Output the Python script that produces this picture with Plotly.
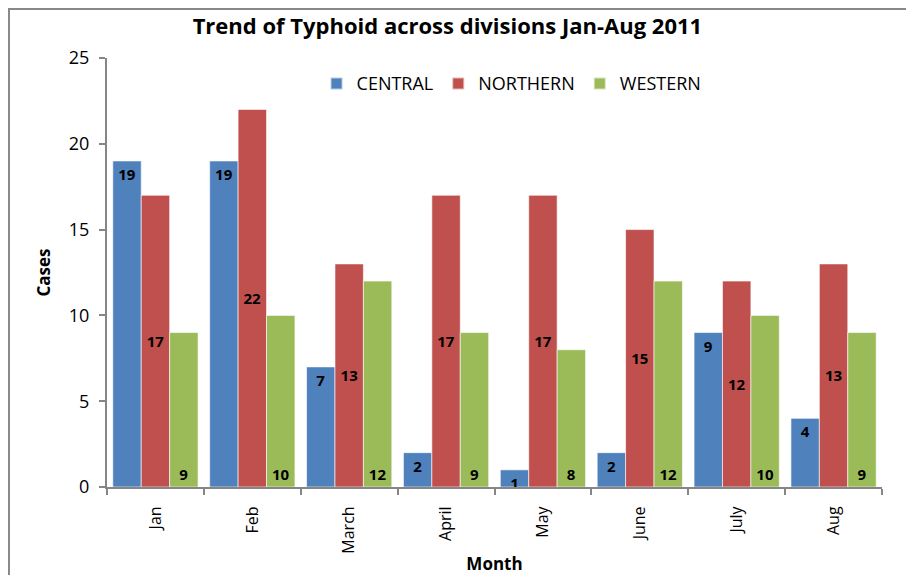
import plotly.graph_objects as go

months = ["Jan", "Feb", "March", "April", "May", "June", "July", "Aug"]
central = [19, 19, 7, 2, 1, 2, 9, 4]
northern = [17, 22, 13, 17, 17, 15, 12, 13]
western = [9, 10, 12, 9, 8, 12, 10, 9]

FONT = "Open Sans"
label_font = dict(family=FONT, size=15, color="black", weight="bold")

fig = go.Figure()
specs = [
    ("CENTRAL", central, "#4F81BD", "end"),
    ("NORTHERN", northern, "#C0504D", "middle"),
    ("WESTERN", western, "#9BBB59", "start"),
]
for name, vals, color, anchor in specs:
    fig.add_trace(go.Bar(
        name=name, x=months, y=vals,
        marker=dict(color=color, line=dict(color="rgba(255,255,255,0.6)", width=1)),
        text=[str(v) for v in vals], textposition="inside", insidetextanchor=anchor,
        textfont=label_font, constraintext="none", textangle=0,
        cliponaxis=False,
    ))

fig.update_layout(
    width=906, height=567,
    barmode="group", bargap=0.12, bargroupgap=0,
    plot_bgcolor="white", paper_bgcolor="white",
    margin=dict(l=99, r=32, t=50, b=88, autoexpand=False),
    font=dict(family=FONT, size=16, color="black"),
    title=dict(text="<b>Trend of Typhoid across divisions Jan-Aug 2011</b>",
               x=0.485, xanchor="center", y=0.967, yanchor="middle",
               font=dict(family=FONT, size=22, color="black")),
    legend=dict(orientation="h", x=0.522, xanchor="center", y=0.94, yanchor="middle",
                font=dict(family=FONT, size=18), itemsizing="constant",
                bgcolor="rgba(0,0,0,0)", traceorder="normal"),
    xaxis=dict(
        automargin=False,
        showline=True, linecolor="#868686", linewidth=2,
        ticks="outside", tickson="boundaries", ticklen=6, tickcolor="#868686", tickwidth=2,
        tickangle=-90, tickfont=dict(family=FONT, size=16), ticklabelstandoff=11,
        title=dict(text="<b>Month</b>", font=dict(family=FONT, size=17), standoff=12),
        showgrid=False,
    ),
    yaxis=dict(
        automargin=False,
        range=[0, 25], dtick=5, showline=True, linecolor="#868686", linewidth=2,
        ticks="outside", ticklen=6, tickcolor="#868686", tickwidth=2,
        tickfont=dict(family=FONT, size=18), ticklabelstandoff=6,
        title=dict(text="<b>Cases</b>", font=dict(family=FONT, size=17), standoff=14),
        showgrid=False, zeroline=False,
    ),
    shapes=[dict(type="rect", xref="paper", yref="paper",
                 x0=-0.1265, x1=1.0387, y0=-0.25, y1=1.114,
                 line=dict(color="#888888", width=2), fillcolor="rgba(0,0,0,0)", layer="below")],
)

fig.write_html("out.html")
